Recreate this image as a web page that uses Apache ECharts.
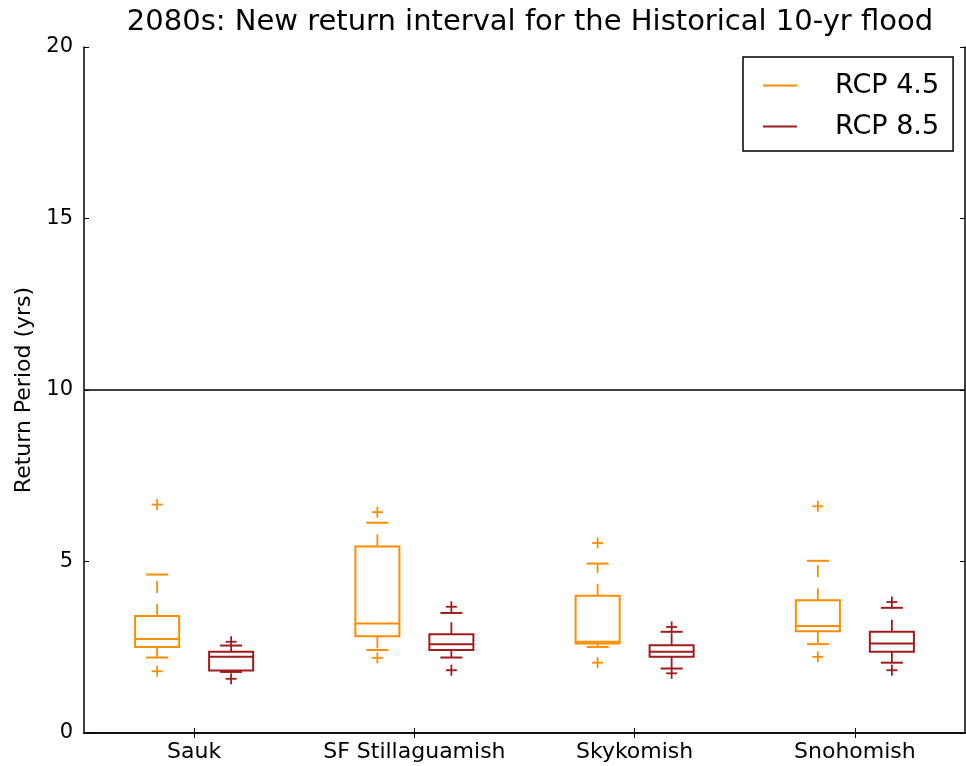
<!DOCTYPE html>
<html>
<head>
<meta charset="utf-8">
<script src="https://cdn.jsdelivr.net/npm/echarts@6/dist/echarts.min.js"></script>
<style>
html,body{margin:0;padding:0;background:#fff;}
#chart{width:966px;height:766px;}
</style>
</head>
<body>
<div id="chart"></div>
<script>
// ---- data ----
const categories = ['Sauk', 'SF Stillaguamish', 'Skykomish', 'Snohomish'];
const seriesNames = ['RCP 4.5', 'RCP 8.5'];
const yTicks = [0, 5, 10, 15, 20];
const referenceLine = 10;
// [min whisker, Q1, median, Q3, max whisker]
const rcp45Box = [
  [2.20, 2.51, 2.74, 3.41, 4.62],
  [2.42, 2.82, 3.19, 5.44, 6.13],
  [2.51, 2.61, 2.66, 4.00, 4.94],
  [2.59, 2.97, 3.12, 3.87, 5.02]
];
const rcp85Box = [
  [1.78, 1.82, 2.22, 2.37, 2.55],
  [2.20, 2.42, 2.59, 2.88, 3.50],
  [1.88, 2.22, 2.37, 2.56, 2.95],
  [2.05, 2.37, 2.61, 2.95, 3.65]
];
const rcp45Fliers = [
  [6.66, 1.80],
  [6.44, 2.19],
  [5.54, 2.05],
  [6.61, 2.22]
];
const rcp85Fliers = [
  [2.66, 1.58],
  [3.68, 1.83],
  [3.09, 1.74],
  [3.82, 1.83]
];

// ---- styles ----
const colors = ['#ff8c00', '#a01c1c'];
const FONT = 'DejaVu Sans';

function boxRenderer(sign, color) {
  return function (params, api) {
    const ci = api.value(0);
    const band = api.size([1, 0])[0];
    const off = sign * 0.168 * band;
    const half = 0.1 * band;
    const capHalf = 0.05 * band;
    const c = api.coord([ci, 0]);
    const x = c[0] + off;
    const yMin = api.coord([ci, api.value(1)])[1];
    const yQ1 = api.coord([ci, api.value(2)])[1];
    const yMed = api.coord([ci, api.value(3)])[1];
    const yQ3 = api.coord([ci, api.value(4)])[1];
    const yMax = api.coord([ci, api.value(5)])[1];
    const solid = { stroke: color, lineWidth: 2, fill: null };
    const dashed = { stroke: color, lineWidth: 1.8, lineDash: [12, 11], fill: null };
    return {
      type: 'group',
      children: [
        { type: 'line', shape: { x1: x, y1: yQ3, x2: x, y2: yMax }, style: dashed },
        { type: 'line', shape: { x1: x, y1: yQ1, x2: x, y2: yMin }, style: dashed },
        { type: 'line', shape: { x1: x - capHalf, y1: yMax, x2: x + capHalf, y2: yMax }, style: solid },
        { type: 'line', shape: { x1: x - capHalf, y1: yMin, x2: x + capHalf, y2: yMin }, style: solid },
        { type: 'rect', shape: { x: x - half, y: yQ3, width: 2 * half, height: yQ1 - yQ3 }, style: solid },
        { type: 'line', shape: { x1: x - half, y1: yMed, x2: x + half, y2: yMed }, style: solid }
      ]
    };
  };
}

function flierRenderer(sign, color) {
  return function (params, api) {
    const ci = api.value(0);
    const band = api.size([1, 0])[0];
    const off = sign * 0.168 * band;
    const p = api.coord([ci, api.value(1)]);
    const x = p[0] + off, y = p[1];
    const s = 5.5;
    const st = { stroke: color, lineWidth: 1.8, fill: null };
    return {
      type: 'group',
      children: [
        { type: 'line', shape: { x1: x - s, y1: y, x2: x + s, y2: y }, style: st },
        { type: 'line', shape: { x1: x, y1: y - s, x2: x, y2: y + s }, style: st }
      ]
    };
  };
}

const boxData45 = rcp45Box.map((b, i) => [i].concat(b));
const boxData85 = rcp85Box.map((b, i) => [i].concat(b));
const flierData45 = [];
rcp45Fliers.forEach((arr, i) => arr.forEach(v => flierData45.push([i, v])));
const flierData85 = [];
rcp85Fliers.forEach((arr, i) => arr.forEach(v => flierData85.push([i, v])));

const chart = echarts.init(document.getElementById('chart'), null, { renderer: 'canvas' });

const axisLineStyle = { show: true, lineStyle: { color: '#000', width: 1.5 } };

const option = {
  animation: false,
  backgroundColor: '#fff',
  title: {
    text: '2080s: New return interval for the Historical 10-yr flood',
    left: 525,
    textAlign: 'center',
    top: 3,
    textStyle: { fontFamily: FONT, fontSize: 29, fontWeight: 'normal', color: '#000' }
  },
  legend: {
    data: [
      { name: seriesNames[0], itemStyle: { color: colors[0] } },
      { name: seriesNames[1], itemStyle: { color: colors[1] } }
    ],
    orient: 'vertical',
    left: 743,
    top: 57,
    icon: 'rect',
    itemWidth: 34,
    itemHeight: 2,
    itemGap: 14,
    padding: [15, 14, 11, 20],
    borderColor: '#000',
    borderWidth: 1.5,
    borderRadius: 0,
    backgroundColor: '#fff',
    textStyle: { fontFamily: FONT, fontSize: 27, color: '#000', lineHeight: 27, padding: [0, 0, 0, 33] }
  },
  grid: { left: 84, right: 1, top: 47, bottom: 33, containLabel: false },
  xAxis: [
    {
      type: 'category',
      data: categories,
      position: 'bottom',
      boundaryGap: true,
      axisLine: axisLineStyle,
      axisTick: { show: true, inside: true, alignWithLabel: true, interval: 0, length: 5, lineStyle: { color: '#000', width: 1 } },
      axisLabel: { fontFamily: FONT, fontSize: 22, color: '#000', margin: 8, interval: 0 },
      splitLine: { show: false }
    },
    {
      type: 'category',
      data: categories,
      position: 'top',
      boundaryGap: true,
      axisLine: axisLineStyle,
      axisTick: { show: true, inside: true, alignWithLabel: true, interval: 0, length: 5, lineStyle: { color: '#000', width: 1 } },
      axisLabel: { show: false },
      splitLine: { show: false }
    }
  ],
  yAxis: [
    {
      type: 'value',
      min: yTicks[0],
      max: yTicks[yTicks.length - 1],
      interval: yTicks[1] - yTicks[0],
      position: 'left',
      name: 'Return Period (yrs)',
      nameLocation: 'middle',
      nameGap: 48,
      nameTextStyle: { fontFamily: FONT, fontSize: 22, color: '#000' },
      axisLine: axisLineStyle,
      axisTick: { show: true, inside: true, length: 5, lineStyle: { color: '#000', width: 1 } },
      axisLabel: { fontFamily: FONT, fontSize: 21, color: '#000', margin: 11 },
      splitLine: { show: false }
    },
    {
      type: 'value',
      min: yTicks[0],
      max: yTicks[yTicks.length - 1],
      interval: yTicks[1] - yTicks[0],
      position: 'right',
      axisLine: axisLineStyle,
      axisTick: { show: true, inside: true, length: 5, lineStyle: { color: '#000', width: 1 } },
      axisLabel: { show: false },
      splitLine: { show: false }
    }
  ],
  series: [
    {
      name: seriesNames[0],
      type: 'custom',
      renderItem: boxRenderer(-1, colors[0]),
      itemStyle: { color: colors[0] },
      encode: { x: 0, y: [1, 2, 3, 4, 5] },
      data: boxData45,
      z: 3,
      markLine: {
        silent: true,
        symbol: 'none',
        label: { show: false },
        lineStyle: { color: '#000', width: 1.5, type: 'solid' },
        data: [{ yAxis: referenceLine }]
      }
    },
    {
      name: seriesNames[1],
      type: 'custom',
      renderItem: boxRenderer(1, colors[1]),
      itemStyle: { color: colors[1] },
      encode: { x: 0, y: [1, 2, 3, 4, 5] },
      data: boxData85,
      z: 3
    },
    {
      name: seriesNames[0],
      type: 'custom',
      renderItem: flierRenderer(-1, colors[0]),
      itemStyle: { color: colors[0] },
      encode: { x: 0, y: 1 },
      data: flierData45,
      z: 3
    },
    {
      name: seriesNames[1],
      type: 'custom',
      renderItem: flierRenderer(1, colors[1]),
      itemStyle: { color: colors[1] },
      encode: { x: 0, y: 1 },
      data: flierData85,
      z: 3
    }
  ]
};
chart.setOption(option);
</script>
</body>
</html>
